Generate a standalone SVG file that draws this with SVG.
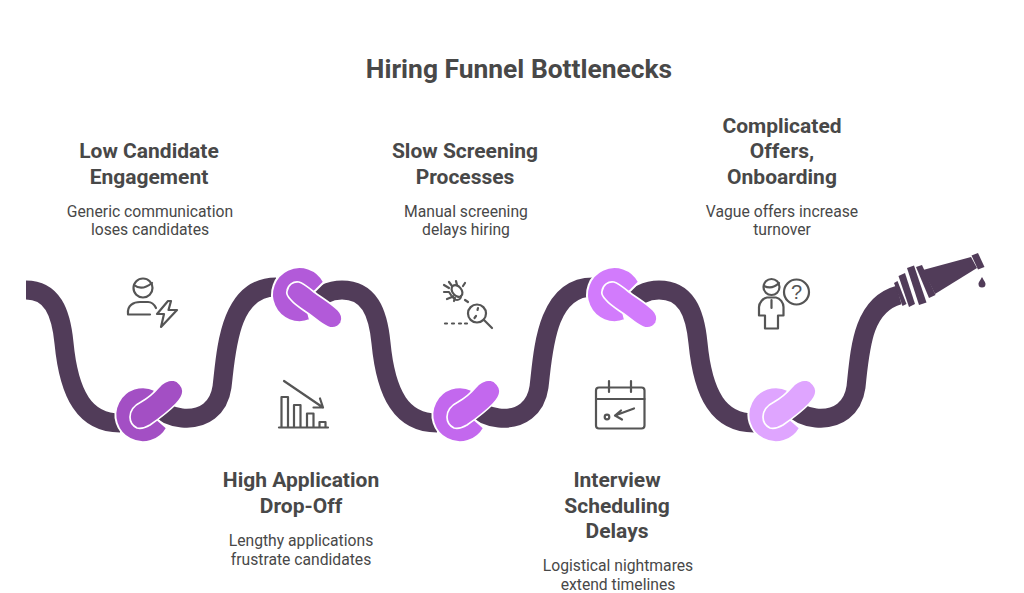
<svg xmlns="http://www.w3.org/2000/svg" width="1024" height="593" viewBox="0 0 1024 593">
<style>
text{font-family:Roboto,"Liberation Sans",sans-serif;text-anchor:middle;fill:#484848}
.t{font-size:26.4px;font-weight:700}
.h{font-size:21px;font-weight:700}
.d{font-size:15.7px;font-weight:400}
.hose{fill:none;stroke:#513C59;stroke-width:19}
.n{fill:#513C59}
.ring{stroke:#fff;stroke-width:2}
.pill{stroke:#fff;stroke-width:1.700}
.i{fill:none;stroke:#555;stroke-width:2.200;stroke-linecap:round;stroke-linejoin:round}
</style>
<defs>
<g id="kb"><path class="ring" d="M155 390A27.500 27.500 0 1 0 167 428L158 420L150 405Z"/><path class="pill" d="M130 417C130 410 135 405 141 402C148 398 153 394 158 388C162 383 168 380 173 380C179 381 183 387 183 391C183 396 180 400 176 404C170 410 160 418 150 425C145 428 141 429 137 428C133 426 130 422 130 417Z"/></g>
<g id="kt"><path class="ring" d="M324 282A27.500 27.500 0 1 0 310 320L305 300L316 290Z"/><path class="pill" d="M287 291C288 285 293 281 299 282C303 283 308 287 314 292C322 298 331 303 338 310C342 314 343 319 341 323C338 327 333 329 328 327C322 325 316 319 309 314C302 309 295 305 291 300C288 297 286 294 287 291Z"/></g>
</defs>
<rect width="1024" height="593" fill="#fff"/>
<text class="t" x="519" y="78">Hiring Funnel Bottlenecks</text>
<g id="connectors">
<path class="hose" d="M26 290C52 290 61 312 64 343C69 395 85 423 120 423"/>
<path class="hose" d="M155 405C162 412 170 417 182 418C204 420 219 408 222 387C226 355 228 287 276 287"/>
<path class="hose" d="M308 307C318 296 328 290 342 290C369 290 378 312 381 343C386 395 402 423 437 423"/>
<path class="hose" d="M472 405C479 412 487 417 499 418C521 420 536 408 539 387C543 355 545 287 593 287"/>
<path class="hose" d="M625 307C635 296 645 290 659 290C686 290 695 312 698 343C703 395 719 423 754 423"/>
<path class="hose" d="M789 405C796 412 804 417 816 418C838 420 853 408 856 387C860 350 862 305 899 295"/>
</g>
<g id="knot-1" fill="#A34FC4"><use href="#kb"/></g>
<g id="knot-2" fill="#B25AD9"><use href="#kt"/></g>
<g id="knot-3" fill="#C368EE"><use href="#kb" x="317"/></g>
<g id="knot-4" fill="#D27BFC"><use href="#kt" x="315"/></g>
<g id="knot-5" fill="#DFA5FF"><use href="#kb" x="633"/></g>
<g id="nozzle">
<path class="n" d="M894 283L897.500 281L906.500 304L902.500 306Z"/>
<path class="n" d="M898.500 276L905 273L915 304L909 307Z"/>
<path class="n" d="M907 268L914 265.500L926.500 302.500L919 305Z"/>
<path class="n" d="M916 267L922 265L935.500 295L929 298Z"/>
<path class="n" d="M923 270L971 257L977 268L935 294Z"/>
<path class="n" d="M971.500 255.500L978 253L984.500 267L978 269.500Z"/>
<path class="n" d="M982 277C984 281 985.500 282 985.500 284A3.500 3.500 0 0 1 978.500 284C978.500 282 980 281 982 277Z"/>
</g>
<g id="node-low-candidate">
<text class="h" x="149" y="158">Low Candidate</text>
<text class="h" x="149" y="184">Engagement</text>
<text class="d" x="150" y="217">Generic communication</text>
<text class="d" x="150" y="235">loses candidates</text>
<g class="i">
<circle cx="143" cy="288" r="9.500"/>
<path d="M134 285C140 290 147 287 152 283"/>
<path d="M128 314C127 305 134 302 140 302H148C151 302 154 304 156 308M128 314.500H150"/>
<path d="M168 301L157 314H164L161 327L177 310H168.500L171 301Z"/>
</g>
</g>
<g id="node-high-application">
<text class="h" x="301" y="487">High Application</text>
<text class="h" x="301" y="513">Drop-Off</text>
<text class="d" x="301" y="546">Lengthy applications</text>
<text class="d" x="301" y="565">frustrate candidates</text>
<g class="i">
<path d="M279 427.500H328"/>
<path d="M281.500 427V397H288V427M294 427V405H300.500V427M307 427V413.500H313.500V427M319.500 427V422H325.500V427"/>
<path d="M284 381L323 407.500M320 398.500L323 407.500L313.500 407.500"/>
</g>
</g>
<g id="node-slow-screening">
<text class="h" x="465" y="158">Slow Screening</text>
<text class="h" x="465" y="184">Processes</text>
<text class="d" x="466" y="217">Manual screening</text>
<text class="d" x="466" y="235">delays hiring</text>
<g class="i">
<ellipse cx="457" cy="291" rx="4.500" ry="6.500" transform="rotate(-40 457 291)"/>
<path d="M453 296A4 4 0 0 0 461 296M449 282L452 286M456 281L457 285M444 285L449 288M444 292H449L451 295M447 299L452 297M454 301L455 298M463 286L465 283"/>
<path d="M465 300L468 302M445 323.500H447M452 323.500H454M459 323.500H461M465 323.500H467"/>
<circle cx="477" cy="313.500" r="9"/>
<path d="M484 320L492 328M478 308L477.500 310M476 316L474.500 318"/>
</g>
</g>
<g id="node-interview">
<text class="h" x="617" y="487">Interview</text>
<text class="h" x="617" y="513">Scheduling</text>
<text class="h" x="617" y="538">Delays</text>
<text class="d" x="618" y="571">Logistical nightmares</text>
<text class="d" x="618" y="590">extend timelines</text>
<g class="i">
<rect x="596" y="387.500" width="48.500" height="41" rx="3"/>
<path d="M596 399H644.500M609 381V392M631 381V392"/>
<circle cx="607" cy="417" r="2.300"/>
<path d="M634 408.500L615 415.500M621 410.500L615 415.500L622 419.500"/>
</g>
</g>
<g id="node-complicated">
<text class="h" x="782" y="133">Complicated</text>
<text class="h" x="782" y="158">Offers,</text>
<text class="h" x="782" y="184">Onboarding</text>
<text class="d" x="782" y="217">Vague offers increase</text>
<text class="d" x="782" y="235">turnover</text>
<g class="i">
<circle cx="771.500" cy="287" r="8"/>
<path d="M764 286C770 289 775 287 779 283"/>
<path d="M767 297.500C763 298 759 303 759 307V315.500H765V328.500H778V315.500H783.500V307C783.500 303 780 298 776 297.500ZM771.500 300V308"/>
<circle cx="796.500" cy="292" r="12.500"/>
</g>
<text x="796.500" y="299" style="font-family:'Liberation Sans',sans-serif;font-size:20px;fill:#555">?</text>
</g>
</svg>
